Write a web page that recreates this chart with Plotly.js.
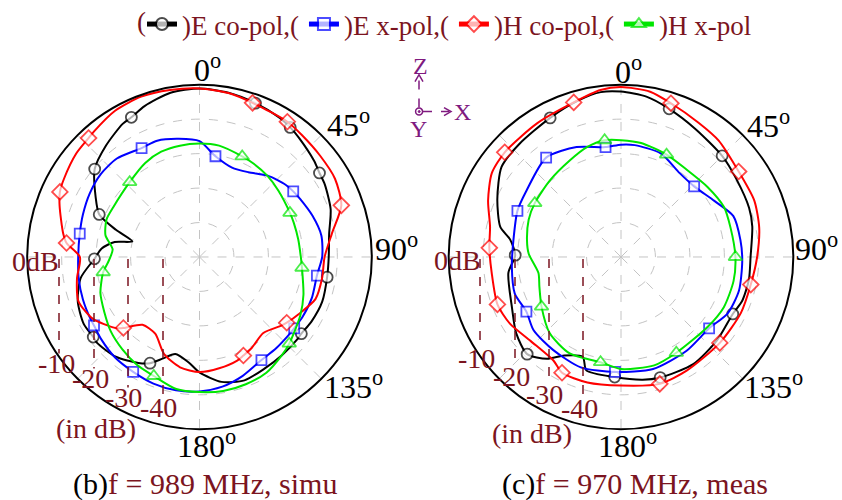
<!DOCTYPE html>
<html><head><meta charset="utf-8">
<script src="https://cdn.plot.ly/plotly-3.0.1.min.js"></script>
<style>body{margin:0;background:#fff}#chart{width:842px;height:500px}</style>
</head><body><div id="chart"></div>
<script>
// ---------- (b) f = 989 MHz, simulated ----------
const simuECoTh = [0,10,20,30,35,40,50,55,60,70,80,90,99,110,120,127,130,140,150,160,170,180,186,194,200,205,210,220,230,233,240,250,260,269,275,280,283,288,293,300,310,320,330,334,340,350,360];
const simuECoR  = [-1.1,-1.6,-2.5,-3.4,-4.1,-5.0,-6.6,-7.5,-8.0,-9.5,-11.8,-12.5,-12.5,-12.1,-12.5,-13.0,-12.9,-12.8,-12.5,-11.9,-13.2,-16.5,-19.3,-21.0,-18.6,-16.0,-14.5,-12.2,-11.2,-11.4,-11.2,-12.4,-15.0,-19.5,-21.5,-25.0,-30.0,-24.5,-18.4,-15.2,-10.3,-7.8,-5.4,-4.9,-3.4,-1.6,-1.1];
const simuECoMk = [20,35,55,99,127,205,233,269,293,310,334];

const simuEXTh = [0,9,20,30,40,50,55,60,70,80,90,99,110,120,127,130,140,149,160,170,180,190,200,210,220,230,237,240,250,260,270,281,290,300,310,320,332,340,350,360];
const simuEXR  = [-16.4,-20.4,-22.4,-21.6,-19.2,-17.4,-16.8,-16.3,-15.1,-14.1,-14.4,-15.5,-15.3,-15.4,-15.6,-15.6,-15.4,-15.1,-13.3,-11.8,-11.0,-10.7,-10.9,-11.5,-11.9,-12.8,-13.5,-13.6,-14.0,-14.4,-14.8,-14.6,-14.0,-13.2,-12.6,-12.7,-14.2,-14.1,-15.2,-16.4];
const simuEXMk = [9,55,99,127,149,210,237,281,332];

const simuHCoTh = [0,10,19,33,40,50,60,70,80,90,100,110,120,127,130,140,150,156,160,170,180,190,200,210,220,227,230,240,250,260,270,276,280,290,295,300,310,317,320,330,340,350,360];
const simuHCoR  = [-1.1,-1.7,-2.7,-3.2,-3.8,-4.3,-4.6,-6.2,-11.0,-13.7,-13.9,-14.2,-16.8,-18.3,-19.0,-21.2,-19.6,-18.7,-18.0,-17.2,-16.6,-17.5,-20.0,-24.3,-24.3,-19.8,-18.0,-14.2,-12.6,-13.9,-15.3,-11.2,-9.8,-6.8,-5.3,-4.6,-3.3,-2.8,-2.4,-1.0,-0.5,-0.8,-1.1];
const simuHCoMk = [19,33,70,127,156,227,276,295,317];

const simuHXTh = [0,10,23,30,40,50,64,70,80,90,96,110,120,134,140,150,160,170,180,190,201,210,220,230,240,250,261,267,275,283,292,300,317,330,340,350,360];
const simuHXR  = [-17.1,-17.2,-18.3,-18.7,-19.3,-20.1,-20.8,-20.9,-20.9,-20.6,-20.1,-17.9,-16.2,-13.8,-12.8,-11.2,-10.7,-10.5,-10.8,-11.1,-13.0,-13.8,-15.1,-16.4,-18.1,-19.4,-21.7,-23.5,-24.7,-22.0,-20.9,-21.1,-20.3,-18.5,-17.5,-17.2,-17.1];
const simuHXMk = [23,64,96,134,201,261,317];

// ---------- (c) f = 970 MHz, measured ----------
const measECoTh = [0,9,18,30,45,56,69,77,90,100,110,117,131,146,162,170,183,197,201,210,216,224,234,245,262,271,279,284,295,307,318,333,345,353,360];
const measECoR  = [-2.0,-2.9,-4.8,-7.0,-8.5,-9.6,-10.2,-10.9,-12.4,-12.3,-12.6,-13.6,-13.1,-12.5,-13.2,-13.8,-15.1,-15.6,-19.0,-17.0,-13.5,-10.8,-12.4,-15.1,-17.0,-19.3,-17.4,-13.9,-10.4,-6.6,-5.9,-4.7,-2.9,-1.8,-2.0];
const measECoMk = [18,45,117,162,183,224,271,333];

const measEXTh = [0,7,21,35,46,59,70,82,92,106,118,129,145,164,183,200,216,230,240,251,265,279,294,305,323,338,352,360];
const measEXR  = [-17.4,-17.3,-17.8,-20.3,-20.5,-18.4,-15.3,-15.0,-14.8,-14.4,-15.0,-17.1,-16.8,-16.2,-16.6,-15.9,-16.6,-16.9,-18.3,-17.4,-18.2,-18.4,-17.1,-16.5,-13.9,-15.6,-17.8,-17.4];
const measEXMk = [46,129,183,240,294,323,352];

const measHCoTh = [0,10,18,30,40,54,67,78,90,102,115,131,150,163,180,195,207,213,227,239,249,263,274,283,293,303,312,328,343,353,360];
const measHCoR  = [-0.7,-1.3,-3.1,-5.0,-5.9,-7.8,-8.0,-9.0,-10.5,-11.5,-11.6,-12.0,-11.9,-11.5,-12.7,-12.3,-12.3,-14.1,-14.2,-12.4,-11.6,-12.2,-11.7,-11.0,-8.1,-5.3,-4.6,-4.2,-3.1,-1.2,-0.7];
const measHCoMk = [18,54,102,131,163,207,249,274,312,343];

const measHXTh = [0,10,24,37,51,64,75,90,102,116,129,150,163,180,191,208,223,238,250,259,272,280,292,302,317,332,343,352,360];
const measHXR  = [-16.1,-16.4,-17.5,-18.3,-17.7,-16.8,-17.1,-16.8,-16.6,-16.8,-17.7,-17.9,-17.1,-17.5,-18.9,-18.3,-19.7,-22.8,-24.8,-25.6,-23.2,-22.3,-21.1,-20.5,-19.7,-18.3,-16.6,-15.8,-16.1];
const measHXMk = [24,90,150,191,238,302,352];

const seriesNames = [')E co-pol,(', ')E x-pol,(', ')H co-pol,(', ')H x-pol'];
const angTickVals = [0,45,90,135,180,225,270,315];
const angLabels = ['0','45','90','135','180'];
const radTickVals = [-40,-30,-20,-10];
const dbLabels = ['0dB','-10','-20','-30','-40','(in dB)'];
const panelTitles = ['<span style="color:#000">(b)</span>f = 989 MHz, simu', '<span style="color:#000">(c)</span>f = 970 MHz, meas'];

// ---------- styling ----------
const W = 842, H = 500;
const PX = x => x / W, PY = y => 1 - y / H;
const maroon = '#7b1420', purple = '#7f1a7f';
const SERIF = 'Liberation Serif';
const styles = [
  {color:'#000000', symbol:'circle', size:11},
  {color:'#0000ff', symbol:'square', size:10},
  {color:'#ff0000', symbol:'diamond', size:12},
  {color:'#00e600', symbol:'triangle-up', size:12}
];
const panels = [
  {subplot:'polar',  th:[simuECoTh,simuEXTh,simuHCoTh,simuHXTh], r:[simuECoR,simuEXR,simuHCoR,simuHXR], mk:[simuECoMk,simuEXMk,simuHCoMk,simuHXMk]},
  {subplot:'polar2', th:[measECoTh,measEXTh,measHCoTh,measHXTh], r:[measECoR,measEXR,measHCoR,measHXR], mk:[measECoMk,measEXMk,measHCoMk,measHXMk]}
];

const traces = [];
panels.forEach((p, pi) => {
  for (let i = 0; i < 4; i++) {
    const s = styles[i], th = p.th[i], mk = p.mk[i];
    traces.push({
      type:'scatterpolar', subplot:p.subplot, theta:th, r:p.r[i],
      mode:'lines+markers', name:seriesNames[i], legendgroup:'g'+i, showlegend: pi === 0,
      line:{color:s.color, width:2, shape:'spline', smoothing:0.7},
      marker:{symbol:s.symbol, color:'#ffffff',
        size: th.map(t => mk.includes(t) ? s.size : 0),
        line:{color:s.color, width: th.map(t => mk.includes(t) ? 1.8 : 0)}},
      hoverinfo:'skip'
    });
  }
});

function polarLayout(cx, cy, rad) {
  return {
    domain:{x:[PX(cx - rad), PX(cx + rad)], y:[PY(cy + rad), PY(cy - rad)]},
    bgcolor:'#ffffff',
    radialaxis:{range:[-50,0], tickmode:'array', tickvals:radTickVals, showticklabels:false, ticks:'',
      showline:false, gridcolor:'#c4c4c4', griddash:'dash', gridwidth:1},
    angularaxis:{rotation:90, direction:'clockwise', tickmode:'array', tickvals:angTickVals, showticklabels:false, ticks:'',
      showline:true, linecolor:'#000', linewidth:2, gridcolor:'#c4c4c4', griddash:'dash', gridwidth:1}
  };
}

const annotations = [];
const shapes = [];
const txt = (text, x, y, size, color, extra) => annotations.push(Object.assign({
  text, x:PX(x), y:PY(y), xref:'paper', yref:'paper', showarrow:false, xanchor:'center', yanchor:'middle',
  font:{family:SERIF, size, color}}, extra || {}));

// legend leading parenthesis
txt('(', 141, 20, 27, maroon);

// angular labels (digit left edge, digit vertical centre)
const angPos = [
  [[192,66],[325,121],[373,246],[322,385],[175,444]],
  [[613,68],[745,122],[793,246],[742,385],[596,444]]
];
angPos.forEach(ps => ps.forEach((p, k) =>
  txt(angLabels[k] + '<sup>o</sup>', p[0], p[1], 32, '#000', {xanchor:'left'})));

// dB labels and dashed markers for both panels
const dbPos = [
  {lab:[[35,261],[56,363],[90,378],[124,397],[158,407],[96,428]], lines:[[59,353],[94,368],[128,387],[163,397]]},
  {lab:[[457,260],[476,358],[511,376],[544,394],[579,408],[532,433]], lines:[[480,347],[515,363],[549,383],[583,397]]}
];
dbPos.forEach(d => {
  d.lab.forEach((p, k) => txt(dbLabels[k], p[0], p[1], 28, maroon));
  d.lines.forEach(l => shapes.push({type:'line', xref:'paper', yref:'paper', x0:PX(l[0]), x1:PX(l[0]), y0:PY(258), y1:PY(l[1]),
    line:{color:maroon, width:1.5, dash:'dash'}}));
});

// panel titles
txt(panelTitles[0], 205, 484, 30, maroon);
txt(panelTitles[1], 635, 484, 30, maroon);

// coordinate glyph
txt('Z', 420, 64, 24, purple);
txt('X', 462, 110, 24, purple);
txt('Y', 418, 128, 24, purple);
const gl = {color:purple, width:1.5};
shapes.push({type:'line', xref:'paper', yref:'paper', x0:PX(419), x1:PX(419), y0:PY(106), y1:PY(75), line:Object.assign({dash:'dash'}, gl)});
shapes.push({type:'path', xref:'paper', yref:'paper', path:`M ${PX(415)},${PY(80)} L ${PX(419)},${PY(73)} L ${PX(423)},${PY(80)}`, line:gl});
shapes.push({type:'circle', xref:'paper', yref:'paper', x0:PX(415.6), x1:PX(422.6), y0:PY(113.5), y1:PY(106.5), line:gl});
shapes.push({type:'circle', xref:'paper', yref:'paper', x0:PX(418.2), x1:PX(420.2), y0:PY(111), y1:PY(109), line:{color:purple, width:1}, fillcolor:purple});
shapes.push({type:'line', xref:'paper', yref:'paper', x0:PX(423), x1:PX(449), y0:PY(110), y1:PY(110), line:Object.assign({dash:'dash'}, gl)});
shapes.push({type:'path', xref:'paper', yref:'paper', path:`M ${PX(444)},${PY(106)} L ${PX(451)},${PY(110)} L ${PX(444)},${PY(114)}`, line:gl});

const layout = {
  width:W, height:H, autosize:false,
  margin:{l:0, r:0, t:0, b:0, pad:0},
  paper_bgcolor:'#ffffff',
  font:{family:SERIF, color:maroon},
  polar: polarLayout(199.5, 256, 173),
  polar2: polarLayout(621, 256, 173),
  showlegend:true,
  legend:{orientation:'h', x:PX(142), xanchor:'left', y:PY(-2), yanchor:'top',
    font:{family:SERIF, size:27, color:maroon}, itemsizing:'constant',
    bgcolor:'rgba(0,0,0,0)', borderwidth:0, tracegroupgap:0, itemwidth:30, traceorder:'normal'},
  annotations, shapes
};

Plotly.newPlot('chart', traces, layout, {displayModeBar:false, staticPlot:true});
</script>
</body></html>
